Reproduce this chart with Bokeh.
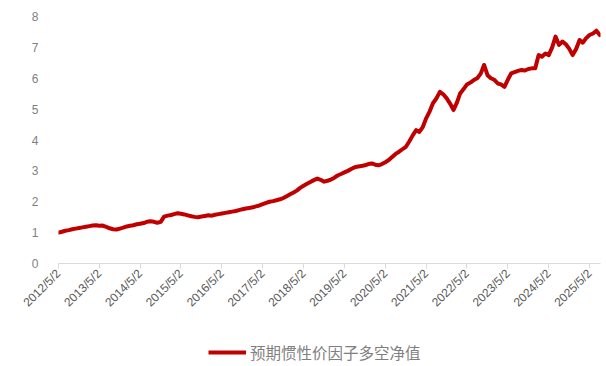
import pandas as pd
from bokeh.plotting import figure
from bokeh.layouts import column
from bokeh.models import (FixedTicker, DatetimeTickFormatter, Legend, LegendItem,
                          Range1d, ColumnDataSource)
from bokeh.embed import file_html
from bokeh.resources import INLINE
from math import pi

series_name = "预期惯性价因子多空净值"

# monthly net values (day 2 of each month)
v2012 = [1.00, 1.03, 1.06, 1.08, 1.11, 1.13, 1.15, 1.17]
v2013 = [1.19, 1.21, 1.23, 1.24, 1.22, 1.23, 1.19, 1.14, 1.11, 1.10, 1.13, 1.16]
v2014 = [1.20, 1.22, 1.24, 1.27, 1.29, 1.31, 1.35, 1.37, 1.35, 1.32, 1.35, 1.52]
v2015 = [1.55, 1.57, 1.60, 1.63, 1.61, 1.59, 1.56, 1.53, 1.51, 1.50, 1.52, 1.54]
v2016 = [1.56, 1.55, 1.58, 1.60, 1.62, 1.64, 1.66, 1.68, 1.70, 1.73, 1.76, 1.78]
v2017 = [1.80, 1.82, 1.85, 1.88, 1.92, 1.96, 2.00, 2.02, 2.05, 2.08, 2.12, 2.18]
v2018 = [2.24, 2.30, 2.36, 2.45, 2.52, 2.58, 2.64, 2.70, 2.75, 2.71, 2.65, 2.68]
v2019 = [2.72, 2.78, 2.85, 2.90, 2.95, 3.00, 3.06, 3.12, 3.14, 3.16, 3.18, 3.22]
v2020 = [3.24, 3.20, 3.18, 3.22, 3.28, 3.35, 3.45, 3.55, 3.62, 3.70, 3.78, 3.95]
v2021 = [4.15, 4.32, 4.26, 4.42, 4.70, 4.92, 5.19, 5.35, 5.56, 5.48, 5.35, 5.18]
v2022 = [4.97, 5.22, 5.51, 5.65, 5.80, 5.86, 5.94, 6.00, 6.15, 6.43, 6.10, 6.00]
v2023 = [5.95, 5.83, 5.80, 5.72, 5.95, 6.16, 6.20, 6.24, 6.27, 6.25, 6.30, 6.32]
v2024 = [6.32, 6.75, 6.70, 6.80, 6.75, 7.00, 7.35, 7.08, 7.19, 7.10, 6.95, 6.75]
v2025 = [6.95, 7.24, 7.15, 7.30, 7.40, 7.45, 7.54, 7.40]

values = v2012 + v2013 + v2014 + v2015 + v2016 + v2017 + v2018 + v2019 + \
    v2020 + v2021 + v2022 + v2023 + v2024 + v2025
dates = pd.date_range("2012-05-01", periods=len(values), freq="MS") + pd.Timedelta(days=1)

tick_years = list(range(2012, 2026))
y_ticks = [0, 1, 2, 3, 4, 5, 6, 7, 8]

LINE_COLOR = "#C00000"
LINE_WIDTH = 4

source = ColumnDataSource(data=dict(date=dates, value=values))

p = figure(width=606, height=330, x_axis_type="datetime", output_backend="svg",
           toolbar_location=None,
           x_range=Range1d(start=pd.Timestamp("2012-05-02"), end=pd.Timestamp("2025-08-08")),
           y_range=Range1d(start=0, end=8),
           min_border_left=58, min_border_right=6, min_border_top=16, min_border_bottom=67)
p.outline_line_color = None
p.xgrid.grid_line_color = None
p.ygrid.grid_line_color = None

r = p.line("date", "value", source=source, line_color=LINE_COLOR, line_width=LINE_WIDTH,
           line_join="round", line_cap="round")

tick_ms = [pd.Timestamp(f"{y}-05-02").value // 10**6 for y in tick_years]
xa = p.xaxis[0]
xa.ticker = FixedTicker(ticks=tick_ms)
fmt = "%Y/%-m/%-d"
xa.formatter = DatetimeTickFormatter(microseconds=fmt, milliseconds=fmt, seconds=fmt,
                                     minsec=fmt, minutes=fmt, hourmin=fmt, hours=fmt,
                                     days=fmt, months=fmt, years=fmt)
xa.major_label_orientation = pi / 4
xa.axis_line_color = "#d9d9d9"
xa.major_tick_line_color = "#d9d9d9"
xa.major_tick_in = 0
xa.major_tick_out = 5
xa.minor_tick_line_color = None
xa.major_label_text_font = "Liberation Sans"
xa.major_label_text_font_size = "12px"
xa.major_label_text_color = "#595959"
xa.major_label_standoff = 3

ya = p.yaxis[0]
ya.ticker = FixedTicker(ticks=y_ticks)
ya.axis_line_color = None
ya.major_tick_line_color = None
ya.minor_tick_line_color = None
ya.major_label_text_font = "Liberation Sans"
ya.major_label_text_font_size = "12px"
ya.major_label_text_color = "#7f7f7f"
ya.major_label_standoff = 14

# legend strip below the chart (a single-point line: only its legend glyph shows)
pl = figure(width=606, height=36, output_backend="svg", toolbar_location=None,
            x_axis_type="datetime",
            x_range=Range1d(start=pd.Timestamp("2012-05-02"), end=pd.Timestamp("2025-08-08")),
            y_range=Range1d(0, 8), min_border=0)
pl.axis.visible = False
pl.grid.grid_line_color = None
pl.outline_line_color = None
rl = pl.line(x=[dates[0]], y=[values[0]], line_color=LINE_COLOR, line_width=LINE_WIDTH)
legend = Legend(items=[LegendItem(label=series_name, renderers=[rl])],
                orientation="horizontal", location=(150, 3),
                label_text_font="Noto Sans CJK SC", label_text_font_size="15.5px",
                label_text_color="#7f7f7f", glyph_width=38, glyph_height=14,
                label_standoff=4, padding=3, margin=0, border_line_color=None,
                background_fill_alpha=0)
pl.add_layout(legend, "center")

layout = column(p, pl, spacing=0)
open("out.html", "w").write(file_html(layout, INLINE))
